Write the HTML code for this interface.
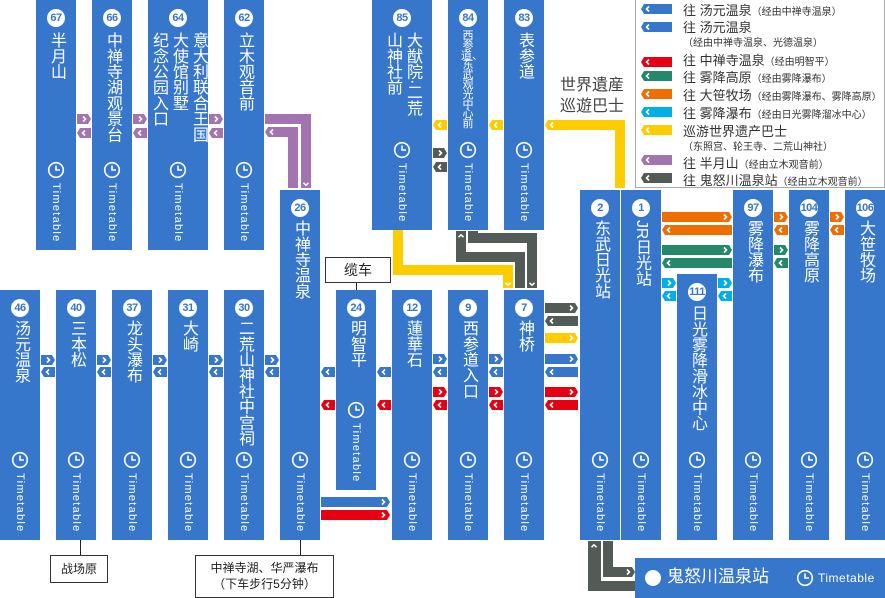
<!DOCTYPE html>
<html><head><meta charset="utf-8">
<style>
*{margin:0;padding:0;box-sizing:border-box}
body{width:885px;height:598px;position:relative;background:#fff;overflow:hidden;font-family:"Liberation Sans","Noto Sans CJK SC",sans-serif}
.c{position:absolute;background:#3677cc}
.n{position:absolute;left:50%;margin-left:-9px;width:18px;height:18px;border-radius:50%;background:#fff;color:#3677cc;font:bold 11px/18px "Liberation Sans",sans-serif;text-align:center;letter-spacing:-0.5px}
.t{position:absolute;left:0;right:0;display:flex;justify-content:center}
.t span{writing-mode:vertical-rl;white-space:nowrap;font-size:16px;line-height:20px;color:#fff;font-family:"Liberation Sans","Noto Sans CJK SC",sans-serif;letter-spacing:-0.3px}
.tt{position:absolute;left:50%;transform:translateX(-50%);writing-mode:vertical-rl;white-space:nowrap;font:11px/12px "Liberation Sans",sans-serif;letter-spacing:1.3px;color:#fff}
.box{position:absolute;background:#fff;border:1px solid #333;color:#222;text-align:center;font-family:"Liberation Sans","Noto Sans CJK SC",sans-serif}
.lg{position:absolute;left:683px;color:#333;white-space:nowrap;font-family:"Liberation Sans","Noto Sans CJK SC",sans-serif}
.lg b{font-weight:normal;font-size:13px}
.lg i{font-style:normal;font-size:10px}
svg{position:absolute;left:0;top:0}
</style></head><body>

<div class="c" style="left:36px;top:0;width:40px;height:250px"><div class="n" style="top:9px">67</div><div class="t" style="top:32px"><span>半月山</span></div><div class="tt" style="top:183px">Timetable</div></div>
<div class="c" style="left:92px;top:0;width:40px;height:250px"><div class="n" style="top:9px">66</div><div class="t" style="top:32px"><span>中禅寺湖观景台</span></div><div class="tt" style="top:183px">Timetable</div></div>
<div class="c" style="left:148px;top:0;width:60px;height:250px"><div class="n" style="top:9px">64</div><div class="t" style="top:32px"><span>意大利联合王国<br>大使馆别墅<br>纪念公园入口</span></div><div class="tt" style="top:183px">Timetable</div></div>
<div class="c" style="left:224px;top:0;width:40px;height:250px"><div class="n" style="top:9px">62</div><div class="t" style="top:32px"><span>立木观音前</span></div><div class="tt" style="top:183px">Timetable</div></div>
<div class="c" style="left:372px;top:0;width:60px;height:230px"><div class="n" style="top:9px">85</div><div class="t" style="top:32px"><span>大猷院·二荒<br>山神社前</span></div><div class="tt" style="top:163px">Timetable</div></div>
<div class="c" style="left:448px;top:0;width:40px;height:230px"><div class="n" style="top:9px">84</div><div style="position:absolute;left:13px;top:31px;width:14px;font-size:11px;line-height:9.8px;color:#fff;text-align:center;word-break:break-all;font-family:'Noto Sans CJK SC',sans-serif">西参道、东武观光中心前</div><div class="tt" style="top:163px">Timetable</div></div>
<div class="c" style="left:504px;top:0;width:40px;height:230px"><div class="n" style="top:9px">83</div><div class="t" style="top:32px"><span>表参道</span></div><div class="tt" style="top:163px">Timetable</div></div>

<div class="c" style="left:0;top:290px;width:40px;height:250px"><div class="n" style="top:9px">46</div><div class="t" style="top:30px"><span>汤元温泉</span></div><div class="tt" style="top:183px">Timetable</div></div>
<div class="c" style="left:56px;top:290px;width:40px;height:250px"><div class="n" style="top:9px">40</div><div class="t" style="top:30px"><span>三本松</span></div><div class="tt" style="top:183px">Timetable</div></div>
<div class="c" style="left:112px;top:290px;width:40px;height:250px"><div class="n" style="top:9px">37</div><div class="t" style="top:30px"><span>龙头瀑布</span></div><div class="tt" style="top:183px">Timetable</div></div>
<div class="c" style="left:168px;top:290px;width:40px;height:250px"><div class="n" style="top:9px">31</div><div class="t" style="top:30px"><span>大崎</span></div><div class="tt" style="top:183px">Timetable</div></div>
<div class="c" style="left:224px;top:290px;width:40px;height:250px"><div class="n" style="top:9px">30</div><div class="t" style="top:30px"><span>二荒山神社中宫祠</span></div><div class="tt" style="top:183px">Timetable</div></div>
<div class="c" style="left:280px;top:190px;width:40px;height:350px"><div class="n" style="top:9px">26</div><div class="t" style="top:30px"><span>中禅寺温泉</span></div><div class="tt" style="top:283px">Timetable</div></div>
<div class="c" style="left:336px;top:290px;width:40px;height:200px"><div class="n" style="top:9px">24</div><div class="t" style="top:30px"><span>明智平</span></div><div class="tt" style="top:133px">Timetable</div></div>
<div class="c" style="left:392px;top:290px;width:40px;height:250px"><div class="n" style="top:9px">12</div><div class="t" style="top:30px"><span>蓮華石</span></div><div class="tt" style="top:183px">Timetable</div></div>
<div class="c" style="left:448px;top:290px;width:40px;height:250px"><div class="n" style="top:9px">9</div><div class="t" style="top:30px"><span>西参道入口</span></div><div class="tt" style="top:183px">Timetable</div></div>
<div class="c" style="left:504px;top:290px;width:40px;height:250px"><div class="n" style="top:9px">7</div><div class="t" style="top:30px"><span>神桥</span></div><div class="tt" style="top:183px">Timetable</div></div>

<div class="c" style="left:580px;top:190px;width:40px;height:350px"><div class="n" style="top:9px">2</div><div class="t" style="top:30px"><span>东武日光站</span></div><div class="tt" style="top:283px">Timetable</div></div>
<div class="c" style="left:621px;top:190px;width:40px;height:350px"><div class="n" style="top:9px">1</div><div class="t" style="top:30px"><span>JR日光站</span></div><div class="tt" style="top:283px">Timetable</div></div>
<div class="c" style="left:677px;top:274px;width:40px;height:266px"><div class="n" style="top:9px">111</div><div class="t" style="top:31px"><span>日光雾降滑冰中心</span></div><div class="tt" style="top:199px">Timetable</div></div>
<div class="c" style="left:733px;top:190px;width:40px;height:350px"><div class="n" style="top:9px">97</div><div class="t" style="top:30px"><span>雾降瀑布</span></div><div class="tt" style="top:283px">Timetable</div></div>
<div class="c" style="left:789px;top:190px;width:40px;height:350px"><div class="n" style="top:9px">104</div><div class="t" style="top:30px"><span>雾降高原</span></div><div class="tt" style="top:283px">Timetable</div></div>
<div class="c" style="left:845px;top:190px;width:40px;height:350px"><div class="n" style="top:9px">106</div><div class="t" style="top:30px"><span>大笹牧场</span></div><div class="tt" style="top:283px">Timetable</div></div>

<div class="c" style="left:635px;top:558px;width:250px;height:40px">
<div style="position:absolute;left:10px;top:12px;width:16px;height:16px;border-radius:50%;background:#fff"></div>
<div style="position:absolute;left:32px;top:8px;font-size:17px;line-height:22px;color:#fff">鬼怒川温泉站</div>
<div style="position:absolute;left:183px;top:13px;font:12px/14px 'Liberation Sans',sans-serif;color:#fff;letter-spacing:0.5px">Timetable</div>
</div>

<div style="position:absolute;left:635px;top:0;width:250px;height:188px;border:1px solid #aaa;border-top:none"></div>
<div class="lg" style="top:0px"><b>往 汤元温泉</b><i>（经由中禅寺温泉）</i></div>
<div class="lg" style="top:17px"><b>往 汤元温泉</b></div>
<div class="lg" style="top:33px"><i>（经由中禅寺温泉、光德温泉）</i></div>
<div class="lg" style="top:50px"><b>往 中禅寺温泉</b><i>（经由明智平）</i></div>
<div class="lg" style="top:67px"><b>往 雾降高原</b><i>（经由雾降瀑布）</i></div>
<div class="lg" style="top:85px"><b>往 大笹牧场</b><i>（经由雾降瀑布、雾降高原）</i></div>
<div class="lg" style="top:103px"><b>往 雾降瀑布</b><i>（经由日光雾降溜冰中心）</i></div>
<div class="lg" style="top:121px"><b>巡游世界遗产巴士</b></div>
<div class="lg" style="top:137px"><i>（东照宫、轮王寺、二荒山神社）</i></div>
<div class="lg" style="top:153px"><b>往 半月山</b><i>（经由立木观音前）</i></div>
<div class="lg" style="top:170px"><b>往 鬼怒川温泉站</b><i>（经由立木观音前）</i></div>

<div style="position:absolute;left:556px;top:75px;width:68px;text-align:right;font-size:16px;line-height:21px;color:#444">世界遺産<br>巡遊巴士</div>

<div class="box" style="left:325px;top:257px;width:66px;height:26px;font-size:14px;line-height:24px">缆车</div>
<div style="position:absolute;left:356px;top:283px;width:1px;height:7px;background:#222"></div>
<div class="box" style="left:50px;top:555px;width:58px;height:28px;font-size:12px;line-height:26px">战场原</div>
<div style="position:absolute;left:80px;top:540px;width:1px;height:15px;background:#222"></div>
<div class="box" style="left:195px;top:555px;width:139px;height:43px;font-size:12px;line-height:16px;padding-top:4px">中禅寺湖、华严瀑布<br>（下车步行5分钟）</div>
<div style="position:absolute;left:300px;top:540px;width:1px;height:15px;background:#222"></div>

<svg id="s" width="885" height="598" viewBox="0 0 885 598"></svg>
<script>
var s=document.getElementById('s'),h='';
var C={b:'#3677cc',r:'#e60012',g:'#23896a',o:'#ee6e00',c:'#00aee8',y:'#ffcc00',p:'#a374b0',d:'#525b56'};
function R(x,y,w,c){h+='<polygon fill="'+C[c]+'" points="'+x+','+y+' '+(x+w-3)+','+y+' '+(x+w)+','+(y+5)+' '+(x+w-3)+','+(y+10)+' '+x+','+(y+10)+'"/><polyline fill="none" stroke="#fff" stroke-width="1.6" points="'+(x+w-8)+','+(y+2.5)+' '+(x+w-5.5)+','+(y+5)+' '+(x+w-8)+','+(y+7.5)+'"/>';}
function L(x,y,w,c){h+='<polygon fill="'+C[c]+'" points="'+(x+3)+','+y+' '+(x+w)+','+y+' '+(x+w)+','+(y+10)+' '+(x+3)+','+(y+10)+' '+x+','+(y+5)+'"/><polyline fill="none" stroke="#fff" stroke-width="1.6" points="'+(x+8)+','+(y+2.5)+' '+(x+5.5)+','+(y+5)+' '+(x+8)+','+(y+7.5)+'"/>';}
function B(x,y,w,hh,c){h+='<rect x="'+x+'" y="'+y+'" width="'+w+'" height="'+hh+'" fill="'+C[c]+'"/>';}
function V(x,y,d){h+='<polyline fill="none" stroke="#fff" stroke-width="1.6" points="'+(x-2.5)+','+(y-d*1.2)+' '+x+','+(y+d*1.2)+' '+(x+2.5)+','+(y-d*1.2)+'"/>';}
function K(x,y){h+='<circle cx="'+x+'" cy="'+y+'" r="7.3" fill="none" stroke="#fff" stroke-width="1.6"/><polyline fill="none" stroke="#fff" stroke-width="1.6" points="'+x+','+(y-4.5)+' '+x+','+y+' '+(x+4)+','+y+'"/>';}
[77,133,209].forEach(function(x){R(x,114,14,'p');L(x,128,14,'p');});
B(265,114,46,10,'p');B(301,114,10,74,'p');V(306,184,1);
B(268,127,30,10,'p');L(265,127,10,'p');B(288,127,10,61,'p');
L(433,120,14,'y');L(489,120,14,'y');
B(548,120,77,10,'y');L(545,120,10,'y');B(615,120,10,68,'y');
R(433,148,14,'d');L(433,162,14,'d');
B(393,230,10,45,'y');B(393,265,120,10,'y');B(503,265,10,23,'y');V(508,284,1);
B(456,231,10,31,'d');B(456,252,69,10,'d');B(515,252,10,36,'d');V(461,236,-1);
B(468,231,10,12,'d');B(468,233,69,10,'d');B(527,233,10,55,'d');V(532,284,1);
R(545,303,33,'d');L(545,316,33,'d');R(545,333,33,'y');R(545,354,33,'b');L(545,367,33,'b');R(545,387,33,'r');L(545,400,33,'r');
[489,433].forEach(function(x){R(x,354,14,'b');L(x,367,14,'b');R(x,387,14,'r');L(x,400,14,'r');});
[377,321].forEach(function(x){L(x,367,14,'b');L(x,400,14,'r');});
R(321,497,69,'b');R(321,510,69,'r');
[41,97,153,209,265].forEach(function(x){R(x,355,14,'b');L(x,367,14,'b');});
R(662,212,70,'o');L(662,225,70,'o');R(662,245,70,'g');L(662,258,70,'g');
R(774,212,14,'o');L(774,225,14,'o');R(774,245,14,'g');L(774,258,14,'g');
R(830,212,14,'o');L(830,225,14,'o');
R(662,278,14,'c');L(662,291,14,'c');R(718,278,14,'c');L(718,291,14,'c');
B(588,541,13,50,'d');B(588,581,47,10,'d');V(594,546,-1);
B(603,541,10,36,'d');B(603,567,29,10,'d');R(622,567,13,'d');
var ly=[4,22,57,71,89,107,125,155,173],lc=['b','b','r','g','o','c','y','p','d'];
ly.forEach(function(y,i){L(641,y,31,lc[i]);});
[56,112,178,244].forEach(function(x){K(x,170);});
[402,468,524].forEach(function(x){K(x,150);});
[20,76,132,188,244,300,412,468,524,600,641,697,753,809,865].forEach(function(x){K(x,460);});
K(356,410);K(805,578);
s.innerHTML=h;
</script>
</body></html>
